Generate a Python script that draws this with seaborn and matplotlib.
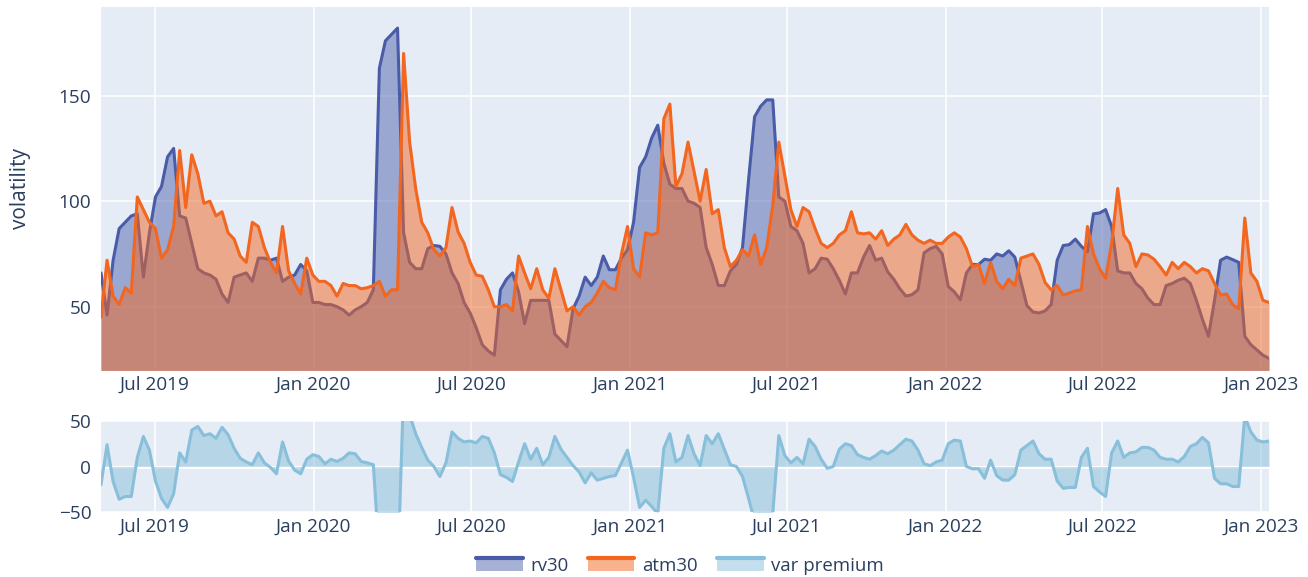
import matplotlib
matplotlib.use("Agg")
import matplotlib.pyplot as plt
import matplotlib.dates as mdates
from matplotlib.legend_handler import HandlerBase
from matplotlib.patches import Rectangle
from matplotlib.lines import Line2D
import pandas as pd
import seaborn as sns

# ---------------- data (weekly readings) ----------------
start_date = "2019-04-30"
rv30 = [
    66, 46, 72, 87, 90, 93, 94, 64, 85, 102,
    107, 121, 125, 93, 92, 80, 68, 66, 65, 63,
    56, 52, 64, 65, 66, 62, 73, 73, 72, 73,
    62, 64, 65, 70, 67, 52, 52, 51, 51, 50,
    48.5, 46, 48.5, 50, 52, 58, 163, 176, 179, 182,
    85, 71, 68, 68, 77.5, 79, 78.6, 75, 66, 61,
    52, 47, 40, 32, 29, 27, 58, 63, 66, 57,
    42, 53, 53, 53, 53, 37, 34, 31, 49, 55,
    64, 60, 64, 74, 67.5, 67.5, 73, 77, 90, 116,
    121, 130, 136, 118, 108, 106, 106, 100, 99, 97,
    78, 70, 60, 60, 67, 70, 78, 110, 140, 145,
    148, 148, 102, 100, 88, 86, 80, 66, 68, 73,
    72.5, 68, 62.5, 56, 66, 66, 73.5, 79, 72, 73,
    66.5, 63, 58.5, 55, 55.7, 58, 75.5, 77.5, 78.6, 75,
    59.6, 57, 53.3, 66, 70, 70, 72.5, 72, 75, 74,
    76.5, 73.5, 62, 50.5, 47.5, 47, 48, 51, 72, 79,
    79.4, 82, 78.6, 76, 94, 94.4, 96, 88, 67, 66,
    66, 61, 58.5, 54, 51, 51, 60, 61, 62.5, 63.5,
    61, 53, 44, 36, 53, 72, 73.5, 72.3, 71, 36,
    32, 29.5, 27, 25.5,
]
atm30 = [
    45, 72, 55, 51, 59, 56.4, 102, 96, 90, 87,
    73, 77, 88, 124, 97, 122, 113, 99, 100, 93,
    95, 85, 82, 74, 71, 90, 88, 78, 71, 66,
    88, 67, 61, 56, 73, 65, 62, 62, 60, 55,
    61, 60, 60, 58.5, 59, 60, 62, 55, 58, 58,
    170, 128, 106, 90, 85, 77, 74, 78, 97, 85.5,
    80, 71, 65, 64.4, 58, 50, 50, 51, 48, 74,
    66, 58.5, 68, 58, 54, 68, 58, 48, 50, 46,
    50, 52, 56.4, 62, 59, 58, 75, 88, 68, 64,
    85, 84, 85, 139, 146, 107, 113, 128, 114, 100,
    115, 94, 96, 78, 69, 72, 77, 74, 84, 70,
    78, 98, 128, 112, 96, 88, 97, 95, 87, 80,
    78, 80, 84, 86, 95, 85, 84.5, 85, 82, 86,
    79, 82, 84, 89, 84, 81.5, 80, 81.5, 80, 80,
    83, 85, 83, 77.5, 69, 70, 61, 71, 62, 58.5,
    63, 60, 73, 74, 75, 70, 61.5, 58, 60, 55.5,
    56.5, 57.5, 58, 88, 75, 68, 63.5, 80, 106, 84,
    80, 69, 75, 74.5, 72.5, 69, 65, 71, 68, 71,
    69, 66, 68, 67, 61, 55.5, 56, 51, 49, 92,
    66, 62, 53, 52,
]
var_premium = [
    -20, 24, -16.5, -36, -33, -33, 10, 33, 18, -16,
    -35, -45, -30, 15, 5, 40, 44, 34, 36, 31,
    43, 35, 20, 9, 5, 2, 15, 4, -1, -8,
    27, 6, -4, -8, 8, 13, 11, 3, 8, 5.5,
    9, 15, 14, 5.5, 4, 2, -100, -120, -120, -125,
    85, 57, 36, 21, 7, 0, -11, 4, 38, 31,
    27, 28, 26, 33, 31, 15, -9, -12, -16.5, 5,
    25, 8, 20, 2, 10, 33, 19, 10, 1, -6,
    -18, -7, -15, -13, -11, -10, 4, 18, -12, -45,
    -37, -44, -52, 20, 36, 5, 10, 34, 14, 1,
    34, 25, 36, 19, 2, 0, -11, -35, -60, -75,
    -70, -52, 34, 12, 4, 10, 3, 30, 22, 8,
    -2, 0, 19, 25, 23, 13, 10, 8, 12, 17,
    14, 18, 24, 30, 28, 18, 3, 1, 5, 7,
    25, 29, 28, 0, -2.5, -2.5, -13, 7, -10, -15,
    -15, -9, 18, 23, 28, 14, 8, 8, -16, -24,
    -23, -23, 10, 20, -22, -28, -33, 15, 28, 10,
    15, 16, 21, 21, 18, 10, 8, 8, 5, 11,
    22, 25, 32, 26, -13, -19, -19, -22, -22, 55,
    38, 29, 27, 28,
]
series_names = ["rv30", "atm30", "var premium"]
y_top_ticks = [50, 100, 150]
y_bottom_ticks = [-50, 0, 50]

dates = pd.date_range(start_date, periods=len(rv30), freq="7D")
df = pd.DataFrame({"date": dates, "rv30": rv30, "atm30": atm30,
                   "var premium": var_premium})

# ---------------- style ----------------
BG = "#E5ECF6"
TXT = "#2A3F5F"
RV = "#4A5BA8"
RV_FILL = "#5064AE"
ATM = "#F2661F"
VP = "#88BFDA"

sns.set_theme(style="darkgrid", rc={"axes.facecolor": BG, "grid.color": "white"})
plt.rcParams["font.family"] = ["Open Sans", "DejaVu Sans"]
plt.rcParams["axes.unicode_minus"] = True

W, H = 1308, 577
fig = plt.figure(figsize=(W / 100, H / 100), dpi=100)
fig.patch.set_facecolor("white")
L, R = 101, 1269
ax1 = fig.add_axes([L / W, 1 - 370 / H, (R - L) / W, 363 / H])
ax2 = fig.add_axes([L / W, 1 - 512 / H, (R - L) / W, 91 / H])

# top panel
ax1.fill_between(df["date"], df["rv30"], 0, color=RV_FILL, alpha=0.5, lw=0, zorder=2)
sns.lineplot(data=df, x="date", y="rv30", ax=ax1, color=RV, lw=2.2, zorder=3)
ax1.fill_between(df["date"], df["atm30"], 0, color=ATM, alpha=0.5, lw=0, zorder=4)
sns.lineplot(data=df, x="date", y="atm30", ax=ax1, color=ATM, lw=2.2, zorder=5)
ax1.set_ylim(20, 192)
ax1.set_yticks(y_top_ticks)

# bottom panel
ax2.axhline(0, color="white", lw=2, zorder=1)
ax2.fill_between(df["date"], df["var premium"], 0, color=VP, alpha=0.5, lw=0, zorder=2)
sns.lineplot(data=df, x="date", y="var premium", ax=ax2, color=VP, lw=2.2, zorder=3)
ax2.set_ylim(-50, 50)
ax2.set_yticks(y_bottom_ticks)

for ax in (ax1, ax2):
    ax.set_xlim(dates[0], dates[-1])
    ax.xaxis.set_major_locator(mdates.MonthLocator(bymonth=[1, 7]))
    ax.xaxis.set_major_formatter(mdates.DateFormatter("%b %Y"))
    ax.grid(True, color="white", lw=1.1)
    ax.set_axisbelow(True)
    for s in ax.spines.values():
        s.set_visible(False)
    ax.tick_params(axis="both", length=0, labelsize=13.7, labelcolor=TXT)
    ax.tick_params(axis="x", pad=4)
    ax.tick_params(axis="y", pad=7)
    ax.set_xlabel("")
    ax.set_ylabel("")
    if ax.get_legend():
        ax.get_legend().remove()

ax1.set_ylabel("volatility", fontsize=15, color=TXT)
ax1.yaxis.set_label_coords((31 - L) / (R - L), 0.5)


# legend
class FillLine:
    def __init__(self, fc, lc):
        self.fc = fc
        self.lc = lc


class FillLineHandler(HandlerBase):
    def create_artists(self, legend, orig_handle, xdescent, ydescent, width,
                       height, fontsize, trans):
        x0, y0 = -xdescent, -ydescent
        rect = Rectangle((x0, y0), width, height, facecolor=orig_handle.fc,
                         alpha=0.5, edgecolor="none", transform=trans)
        line = Line2D([x0, x0 + width], [y0 + height, y0 + height],
                      color=orig_handle.lc, lw=3, transform=trans)
        return [rect, line]


handles = [FillLine(RV_FILL, RV), FillLine(ATM, ATM), FillLine(VP, VP)]
fig.legend(handles, series_names, loc="center",
           bbox_to_anchor=(680 / W, 1 - 566 / H), ncol=3, frameon=False,
           handler_map={FillLine: FillLineHandler()}, fontsize=13.4,
           labelcolor=TXT, handlelength=2.5, handleheight=0.65,
           handletextpad=0.4, columnspacing=1.05)

fig.savefig("out.png", dpi=100)
